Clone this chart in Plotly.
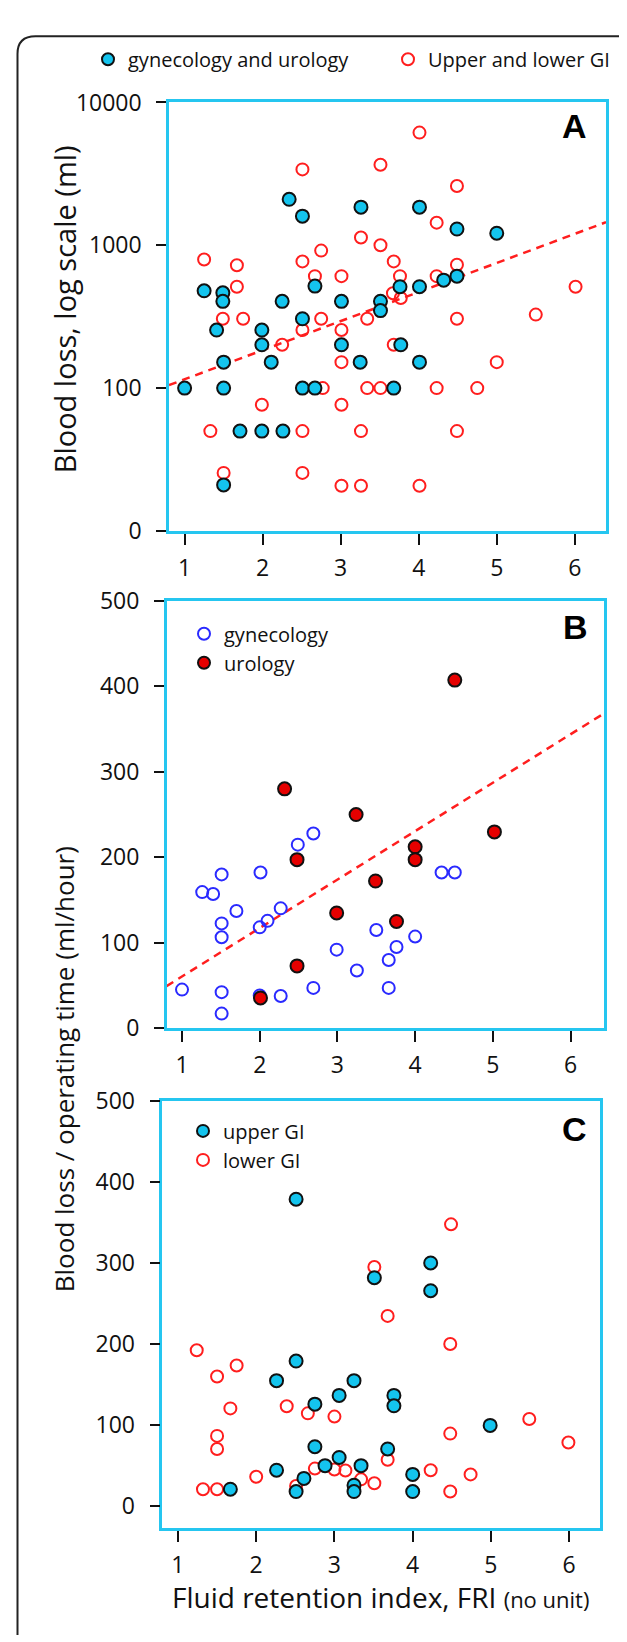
import plotly.graph_objects as go

W, H = 627, 1642

# ---------------- DATA ----------------
a_gu_x = [2.34, 2.51, 3.26, 4.01, 4.49, 5.0, 1.25, 1.49, 1.49, 2.25, 2.67, 3.01, 3.51, 3.51, 3.76, 4.01, 4.32, 4.49,
          2.51, 1.41, 1.99, 1.99, 2.11, 3.01, 3.25, 3.77, 4.01, 1.5, 1.0, 1.5, 2.51, 2.67, 3.68, 1.71, 1.99, 2.26, 1.5]
a_gu_y = [2100, 1600, 1850, 1850, 1300, 1215, 480, 465, 405, 405, 518, 405, 405, 349, 513, 513, 570, 608,
          306, 255, 255, 201, 152, 201, 152, 201, 152, 152, 100, 100, 100, 100, 100, 50, 50, 50, 21]
a_gi_x = [4.01, 2.51, 3.51, 4.49, 4.23, 3.26, 3.51, 1.25, 1.67, 2.51, 2.75, 3.68, 4.49, 1.67, 2.67, 3.01, 3.76, 4.23,
          3.77, 3.67, 6.01, 5.5, 1.49, 1.75, 2.75, 3.34, 4.49, 2.51, 3.01, 2.25, 3.68, 3.01, 5.0, 4.23, 4.75, 2.77,
          3.34, 3.51, 1.99, 3.01, 1.33, 2.51, 3.26, 4.49, 1.5, 2.51, 3.01, 3.26, 4.01]
a_gi_y = [6150, 3400, 3660, 2600, 1440, 1133, 1000, 796, 724, 771, 918, 771, 731, 513, 608, 608, 608, 608,
          427, 462, 513, 327, 306, 306, 306, 306, 306, 255, 255, 201, 201, 152, 152, 100, 100, 100,
          100, 100, 76.5, 76.5, 50, 50, 50, 50, 25.5, 25.5, 20.7, 20.7, 20.7]
a_fit_x = [0.8, 6.4]
a_fit_y = [105, 1450]

b_gyn_x = [2.69, 2.49, 2.01, 4.34, 4.51, 1.51, 1.26, 1.40, 1.70, 2.27, 2.10, 2.0, 1.51, 1.51, 3.50, 4.0, 2.99,
           3.76, 3.66, 3.25, 1.0, 1.51, 2.69, 3.66, 2.27, 2.0, 1.51]
b_gyn_y = [227.5, 214.5, 182, 182, 182, 179.7, 159, 156.8, 137, 140, 125.4, 117.8, 122.4, 106.3, 114.7, 107, 91.7,
           94.8, 79.6, 67.3, 45, 42, 47, 47, 37.5, 38, 16.9]
b_uro_x = [4.51, 2.32, 3.24, 5.02, 4.0, 4.0, 2.48, 3.49, 2.99, 3.76, 2.48, 2.01]
b_uro_y = [407, 279.8, 249.7, 229.4, 212, 197, 197, 172, 134.6, 124.7, 72.7, 35.2]
b_fit_x = [0.8, 6.43]
b_fit_y = [49, 368]

c_up_x = [2.51, 4.23, 3.51, 4.23, 2.51, 2.26, 3.25, 3.06, 3.76, 3.76, 2.75, 4.99, 2.75, 3.68, 3.06, 2.88, 3.34,
          2.26, 2.61, 4.0, 3.25, 3.25, 2.51, 4.0, 1.67]
c_up_y = [378.5, 299.9, 281.7, 265.7, 179, 154.8, 154.8, 136.6, 136.6, 123.8, 125.8, 99.6, 73.4, 70.6, 60.1, 50, 50,
          44.4, 34.3, 39.2, 25.9, 18.1, 18.1, 18.1, 21]
c_low_x = [4.49, 3.51, 3.68, 4.48, 1.24, 1.75, 1.50, 1.67, 2.39, 2.66, 3.0, 5.49, 5.99, 1.50, 1.50, 4.48, 3.68,
           2.75, 3.0, 3.14, 4.23, 2.0, 4.74, 3.51, 3.34, 2.51, 1.32, 1.50, 4.48]
c_low_y = [347.5, 295, 234.6, 200, 192.3, 173.4, 160, 120.6, 123.3, 114.5, 110.5, 107.6, 78.6, 86.7, 70.6, 89.5, 57.3,
           46.4, 45.2, 44, 44.4, 36.3, 39.2, 28.3, 33.1, 25, 21, 21, 18.1]

x_ticks = [1, 2, 3, 4, 5, 6]
a_y_tickvals = [10, 100, 1000, 10000]
a_y_ticktext = ["0", "100", "1000", "10000"]
bc_y_ticks = [0, 100, 200, 300, 400, 500]

# ---------------- STYLE ----------------
CYAN = "#14c4ee"
BOX = "#25c6f0"
RED = "#ff1e1e"
BLUE = "#2a2aff"
DRED = "#e60000"
FONT = "Open Sans"


def px_x(x):
    return x / W


def px_y(y):
    return 1 - y / H


fig = go.Figure()

fig.add_trace(go.Scatter(x=a_fit_x, y=a_fit_y, mode="lines", line=dict(color=RED, width=2.5, dash="8px,6px"),
                         showlegend=False, xaxis="x", yaxis="y", hoverinfo="skip"))
fig.add_trace(go.Scatter(x=a_gi_x, y=a_gi_y, mode="markers", name="Upper and lower GI",
                         marker=dict(symbol="circle-open", size=12, color=RED, line=dict(width=2)),
                         xaxis="x", yaxis="y", legend="legend4"))
fig.add_trace(go.Scatter(x=a_gu_x, y=a_gu_y, mode="markers", name="gynecology and urology",
                         marker=dict(symbol="circle", size=13, color=CYAN, line=dict(width=2, color="#111")),
                         xaxis="x", yaxis="y", legend="legend"))

fig.add_trace(go.Scatter(x=b_fit_x, y=b_fit_y, mode="lines", line=dict(color=RED, width=2.5, dash="8px,6px"),
                         showlegend=False, xaxis="x2", yaxis="y2", hoverinfo="skip"))
fig.add_trace(go.Scatter(x=b_gyn_x, y=b_gyn_y, mode="markers", name="gynecology",
                         marker=dict(symbol="circle-open", size=12, color=BLUE, line=dict(width=2)),
                         xaxis="x2", yaxis="y2", legend="legend2", legendrank=1))
fig.add_trace(go.Scatter(x=b_uro_x, y=b_uro_y, mode="markers", name="urology",
                         marker=dict(symbol="circle", size=13, color=DRED, line=dict(width=2, color="#111")),
                         xaxis="x2", yaxis="y2", legend="legend2", legendrank=2))

fig.add_trace(go.Scatter(x=c_low_x, y=c_low_y, mode="markers", name="lower GI",
                         marker=dict(symbol="circle-open", size=12, color=RED, line=dict(width=2)),
                         xaxis="x3", yaxis="y3", legend="legend3", legendrank=2))
fig.add_trace(go.Scatter(x=c_up_x, y=c_up_y, mode="markers", name="upper GI",
                         marker=dict(symbol="circle", size=13, color=CYAN, line=dict(width=2, color="#111")),
                         xaxis="x3", yaxis="y3", legend="legend3", legendrank=1))

panels = {
    "A": dict(x0=161, x1=598, y0=79, y1=516, xr=[0.8, 6.40]),
    "B": dict(x0=158.7, x1=596, y0=587, y1=1023, xr=[0.803, 6.43]),
    "C": dict(x0=154.3, x1=591.7, y0=1097, y1=1533, xr=[0.80, 6.39]),
}

common_x = dict(showline=True, linecolor=BOX, linewidth=2.5, mirror=True, ticks="outside", ticklen=11,
                tickwidth=2, tickcolor="#111", showgrid=False, zeroline=False, tickvals=x_ticks,
                tickfont=dict(family=FONT, size=23, color="#111"), ticklabelstandoff=4)
common_y = dict(showline=True, linecolor=BOX, linewidth=2.5, mirror=True, ticks="outside", ticklen=10,
                tickwidth=2, tickcolor="#111", showgrid=False, zeroline=False,
                tickfont=dict(family=FONT, size=23, color="#111"), ticklabelstandoff=10)

layout = dict(width=W, height=H, margin=dict(l=0, r=0, t=0, b=0), autosize=False,
              paper_bgcolor="white", plot_bgcolor="white", font=dict(family=FONT, color="#111"))

for i, key in enumerate(["A", "B", "C"]):
    p = panels[key]
    sx = "" if i == 0 else str(i + 1)
    xd = [px_x(p["x0"]), px_x(p["x1"])]
    yd = [px_y(p["y1"]), px_y(p["y0"])]
    layout["xaxis" + sx] = dict(common_x, domain=xd, range=p["xr"], anchor="y" + sx)
    if key == "A":
        layout["yaxis" + sx] = dict(common_y, domain=yd, type="log", range=[1, 4], anchor="x" + sx,
                                    tickvals=a_y_tickvals, ticktext=a_y_ticktext)
    elif key == "B":
        layout["yaxis" + sx] = dict(common_y, domain=yd, range=[0, 500], anchor="x" + sx, tickvals=bc_y_ticks)
    else:
        layout["yaxis" + sx] = dict(common_y, domain=yd, range=[-27, 500], anchor="x" + sx, tickvals=bc_y_ticks)

leg_font = dict(family=FONT, size=20, color="#111")
leg_common = dict(xanchor="left", yanchor="top", font=leg_font, bgcolor="rgba(0,0,0,0)",
                  itemsizing="constant", traceorder="normal")
layout["legend"] = dict(leg_common, x=px_x(80), y=px_y(15))
layout["legend4"] = dict(leg_common, x=px_x(380), y=px_y(15))
layout["legend2"] = dict(leg_common, x=px_x(176), y=px_y(601))
layout["legend3"] = dict(leg_common, x=px_x(175), y=px_y(1108))

annotations = []
for key, (cx, cy) in {"A": (566, 103), "B": (567, 614), "C": (566, 1126)}.items():
    annotations.append(dict(text="<b>%s</b>" % key, x=px_x(cx), y=px_y(cy), xref="paper", yref="paper",
                            showarrow=False, xanchor="center", yanchor="middle",
                            font=dict(family="Liberation Sans", size=34, color="#000")))
annotations.append(dict(text="Blood loss, log scale (ml)", x=px_x(56), y=px_y(290), xref="paper", yref="paper",
                        showarrow=False, textangle=-90, xanchor="center", yanchor="middle",
                        font=dict(family=FONT, size=29, color="#111")))
annotations.append(dict(text="Blood loss / operating time (ml/hour)", x=px_x(56), y=px_y(1065), xref="paper",
                        yref="paper", showarrow=False, textangle=-90, xanchor="center", yanchor="middle",
                        font=dict(family=FONT, size=26, color="#111")))
annotations.append(dict(text="Fluid retention index, FRI <span style='font-size:22px'>(no unit)</span>",
                        x=px_x(583), y=px_y(1603), xref="paper", yref="paper", showarrow=False,
                        xanchor="right", yanchor="middle", font=dict(family=FONT, size=28, color="#111")))
layout["annotations"] = annotations

fx = 9.5 / W
ft = 1 - 11.5 / H
rx, ry = 18 / W, 18 / H
layout["shapes"] = [dict(type="path", xref="paper", yref="paper",
                         path="M %f,0 L %f,%f Q %f,%f %f,%f L 1,%f" % (fx, fx, ft - ry, fx, ft, fx + rx, ft, ft),
                         line=dict(color="#222", width=2))]

fig.update_layout(**layout)
fig.write_html("out.html")
